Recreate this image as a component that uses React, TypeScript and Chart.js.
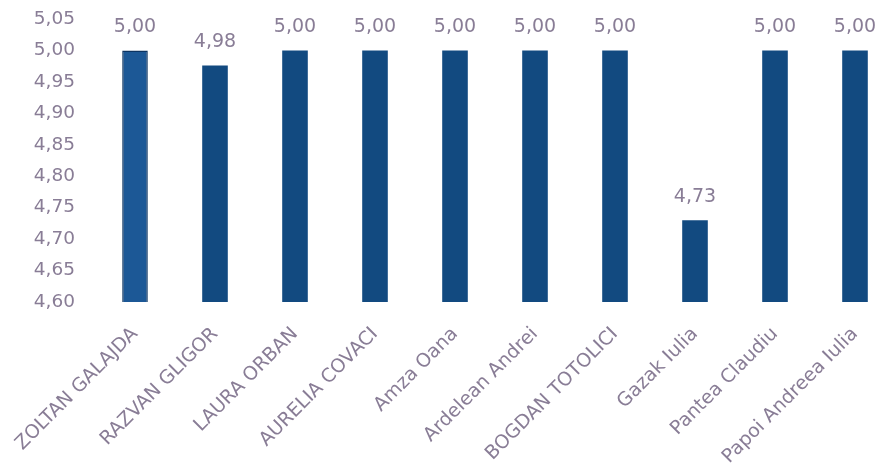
import React, { useEffect, useRef } from "react";
import { Chart, registerables } from "chart.js";

Chart.register(...registerables);

const categories: string[] = [
  "ZOLTAN GALAJDA",
  "RAZVAN GLIGOR",
  "LAURA ORBAN",
  "AURELIA COVACI",
  "Amza Oana",
  "Ardelean Andrei",
  "BOGDAN TOTOLICI",
  "Gazak Iulia",
  "Pantea Claudiu",
  "Papoi Andreea Iulia",
];

const scores: number[] = [5.0, 4.976, 5.0, 5.0, 5.0, 5.0, 5.0, 4.73, 5.0, 5.0];

const yMin = 4.6;
const yMax = 5.05;
const yStep = 0.05;

const TEXT = "#897d96";
const FONT = "DejaVu Sans";

const fmt = (v: number) => v.toFixed(2).replace(".", ",");

const noPad = () => ({ left: 0, top: 0, right: 0, bottom: 0 });

const layoutFix = {
  id: "layoutFix",
  beforeLayout(chart: any) {
    Object.values(chart.scales).forEach((s: any) => {
      s.getPadding = noPad;
    });
  },
};

const valueLabels = {
  id: "valueLabels",
  afterDatasetsDraw(chart: any) {
    const ctx = chart.ctx;
    const meta = chart.getDatasetMeta(0);
    ctx.save();
    ctx.fillStyle = TEXT;
    ctx.font = `19px "${FONT}"`;
    ctx.textAlign = "center";
    ctx.textBaseline = "bottom";
    meta.data.forEach((bar: any, i: number) => {
      const v = chart.data.datasets[0].data[i] as number;
      ctx.fillText(fmt(v), bar.x, bar.y - 14);
    });
    ctx.restore();
  },
};

export default function App() {
  const ref = useRef<HTMLCanvasElement | null>(null);

  useEffect(() => {
    if (!ref.current) return;
    const chart = new Chart(ref.current, {
      type: "bar",
      data: {
        labels: categories,
        datasets: [
          {
            data: scores,
            backgroundColor: scores.map((_, i) => (i === 0 ? "#1c5896" : "#124a80")),
            borderColor: scores.map((_, i) => (i === 0 ? "#0c3462" : "#124a80")),
            borderWidth: scores.map((_, i) => (i === 0 ? 1.5 : 0)),
            categoryPercentage: 0.8,
            barPercentage: 0.4,
          },
        ],
      },
      options: {
        animation: false,
        responsive: false,
        maintainAspectRatio: false,
        layout: { padding: { left: 33, right: 0, top: 19, bottom: 0 } },
        plugins: {
          legend: { display: false },
          tooltip: { enabled: false },
        },
        scales: {
          x: {
            grid: { display: false, drawTicks: false },
            border: { display: false },
            afterFit: (scale: any) => {
              scale.height = 166;
            },
            ticks: {
              color: TEXT,
              font: { family: FONT, size: 19 },
              minRotation: 45,
              maxRotation: 45,
              padding: 21,
              autoSkip: false,
            },
          },
          y: {
            min: yMin,
            max: yMax,
            grid: { display: false, drawTicks: false },
            border: { display: false },
            afterFit: (scale: any) => {
              scale.width = 62;
            },
            ticks: {
              stepSize: yStep,
              color: TEXT,
              font: { family: FONT, size: 18.5 },
              padding: 20,
              callback: (v: any) => fmt(Number(v)),
            },
          },
        },
      },
      plugins: [layoutFix, valueLabels],
    });
    return () => chart.destroy();
  }, []);

  return (
    <div style={{ position: "fixed", left: 0, top: 0, width: 878, height: 468, background: "#fff", overflow: "hidden" }}>
      <canvas ref={ref} width={895} height={468} style={{ width: 895, height: 468, display: "block" }} />
    </div>
  );
}
